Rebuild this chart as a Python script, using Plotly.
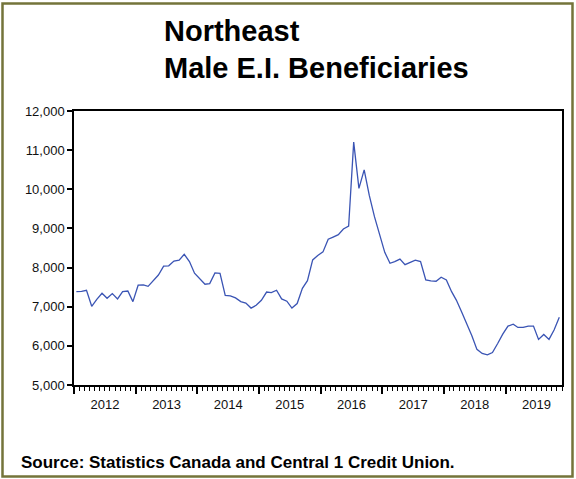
import pandas as pd
import plotly.graph_objects as go

# Monthly male E.I. beneficiaries, Northeast region, Jan 2012 - Nov 2019
months = pd.date_range("2012-01-01", periods=95, freq="MS") + pd.Timedelta(days=14)
beneficiaries = [
    7385, 7390, 7420, 7010, 7190, 7345, 7215, 7335, 7200, 7385, 7400, 7130,   # 2012
    7550, 7555, 7520, 7665, 7810, 8035, 8045, 8165, 8190, 8340, 8155, 7855,   # 2013
    7710, 7575, 7590, 7865, 7855, 7290, 7275, 7225, 7130, 7095, 6965, 7035,   # 2014
    7165, 7375, 7360, 7420, 7200, 7140, 6965, 7080, 7470, 7665, 8195, 8310,   # 2015
    8400, 8725, 8780, 8840, 8985, 9060, 11205, 10025, 10495, 9850, 9300, 8880,  # 2016
    8390, 8110, 8150, 8215, 8075, 8135, 8190, 8155, 7685, 7660, 7650, 7755,   # 2017
    7685, 7385, 7170, 6870, 6575, 6260, 5910, 5805, 5770, 5830, 6060, 6300,   # 2018
    6505, 6555, 6470, 6470, 6505, 6505, 6165, 6290, 6165, 6405, 6730,         # 2019
]

y_ticks = [5000, 6000, 7000, 8000, 9000, 10000, 11000, 12000]
title_lines = ["Northeast", "Male E.I. Beneficiaries"]
source_note = "Source: Statistics Canada and Central 1 Credit Union."

W, H = 576, 479
ML, MR, MT, MB = 74, 14, 111, 94
PW, PH = W - ML - MR, H - MT - MB


def px_x(px):
    return (px - ML) / PW


def px_y(py):
    return (H - MB - py) / PH


FONT = "Arial, Liberation Sans, sans-serif"

fig = go.Figure(
    go.Scatter(
        x=months,
        y=beneficiaries,
        mode="lines",
        line=dict(color="#3a54b4", width=1.3),
        hoverinfo="x+y",
    )
)

fig.update_layout(
    width=W,
    height=H,
    margin=dict(l=ML, r=MR, t=MT, b=MB),
    paper_bgcolor="white",
    plot_bgcolor="white",
    showlegend=False,
    font=dict(family=FONT, color="#111111", size=13),
)

fig.update_xaxes(
    type="date",
    range=["2012-01-01", "2019-12-01"],
    tick0="2012-01-01",
    dtick="M12",
    tickformat="%Y",
    ticklabelmode="period",
    ticks="outside",
    ticklen=7,
    tickwidth=1.5,
    tickcolor="black",
    minor=dict(dtick="M1", ticks="outside", ticklen=4, tickwidth=1, tickcolor="black", showgrid=False),
    showline=True,
    linecolor="black",
    linewidth=1.5,
    mirror=True,
    showgrid=False,
    zeroline=False,
    tickfont=dict(size=13, family=FONT, color="#111111"),
)

fig.update_yaxes(
    range=[5000, 12000],
    tickvals=y_ticks,
    tickformat=",d",
    ticks="outside",
    ticklen=5,
    tickwidth=1.5,
    tickcolor="black",
    showline=True,
    linecolor="black",
    linewidth=1.5,
    mirror=True,
    showgrid=False,
    zeroline=False,
    tickfont=dict(size=13, family=FONT, color="#111111"),
)

# Olive frame around the whole chart
fig.add_shape(
    type="rect",
    xref="paper",
    yref="paper",
    x0=px_x(2.5),
    x1=px_x(572.5),
    y0=px_y(476.5),
    y1=px_y(3.5),
    line=dict(color="#74743a", width=2.5),
    fillcolor="rgba(0,0,0,0)",
    layer="below",
)

# Two-line title
for line, top in zip(title_lines, [13, 50]):
    fig.add_annotation(
        text=f"<b>{line}</b>",
        xref="paper",
        yref="paper",
        x=px_x(162),
        y=px_y(top),
        xanchor="left",
        yanchor="top",
        showarrow=False,
        font=dict(size=29, family=FONT, color="black"),
    )

# Source note
fig.add_annotation(
    text=f"<b>{source_note}</b>",
    xref="paper",
    yref="paper",
    x=px_x(19),
    y=px_y(462),
    xanchor="left",
    yanchor="middle",
    showarrow=False,
    font=dict(size=17, family=FONT, color="black"),
)

fig.write_html("out.html")
